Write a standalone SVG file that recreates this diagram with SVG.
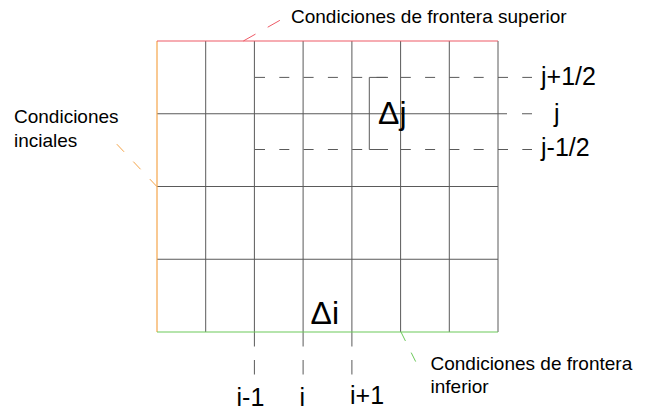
<svg xmlns="http://www.w3.org/2000/svg" width="653" height="411" viewBox="0 0 653 411">
<style>
.g{stroke:#5a5a5a;stroke-width:1;fill:none}
.d{stroke:#5a5a5a;stroke-width:1;fill:none;stroke-dasharray:10 14.3}
.v{stroke:#5a5a5a;stroke-width:1;fill:none;stroke-dasharray:14.5 13.5}
.t{font-family:"Liberation Sans",Arial,sans-serif;font-size:19px;fill:#000}
.l{font-family:"Liberation Sans",Arial,sans-serif;font-size:25px;fill:#000}
.D{font-family:"Liberation Sans",Arial,sans-serif;font-size:32px;fill:#000}
</style>
<rect width="653" height="411" fill="#fff"/>
<g id="grid">
<path class="g" d="M205.7,41V332M254.4,41V332M303.1,41V332M351.9,41V332M400.6,41V332M449.3,41V332M498,41V332"/>
<path class="g" d="M157,113.75H507M157,186.5H498M157,259.25H498"/>
<path class="g" d="M522,113.75H532"/>
</g>
<g id="half-lines">
<path class="d" d="M255,77.4H532M255,149.5H532"/>
<path class="g" d="M388,77.4H369.3V149.5H388"/>
<path class="v" d="M254.4,332V375M303.1,332V375M351.9,332V375"/>
</g>
<g id="boundaries">
<path d="M157,41V332" stroke="#f5a54a" stroke-width="1.2" fill="none"/>
<path d="M157,41H498" stroke="#ee5a66" stroke-width="1.2" fill="none"/>
<path d="M157,332H498" stroke="#6cc95a" stroke-width="1.2" fill="none"/>
</g>
<g id="connectors">
<path d="M243.3,41L281.7,19.3" stroke="#ee5a66" stroke-width="1" stroke-dasharray="14 14" fill="none"/>
<path d="M157,186.7L116,143.3" stroke="#f5a54a" stroke-width="1" stroke-dasharray="10.5 13.5" fill="none"/>
<path d="M401,332L416,362.3" stroke="#6cc95a" stroke-width="1" stroke-dasharray="10 13" fill="none"/>
</g>
<g id="label-top"><text class="t" x="291" y="23">Condiciones de frontera superior</text></g>
<g id="label-left"><text class="t" x="14" y="123">Condiciones</text><text class="t" x="14" y="146.5">inciales</text></g>
<g id="label-bottom"><text class="t" x="430.5" y="370">Condiciones de frontera</text><text class="t" x="430.5" y="393">inferior</text></g>
<g id="j-labels">
<text class="l" x="541" y="85">j+1/2</text>
<text class="l" x="554" y="121.5">j</text>
<text class="l" x="541" y="156">j-1/2</text>
</g>
<g id="i-labels">
<text class="l" x="236.5" y="406">i-1</text>
<text class="l" x="299.5" y="406">i</text>
<text class="l" x="350" y="404">i+1</text>
</g>
<g id="deltas">
<text class="D" x="378" y="123.5">Δj</text>
<text class="D" x="310.5" y="324">Δi</text>
</g>
</svg>
